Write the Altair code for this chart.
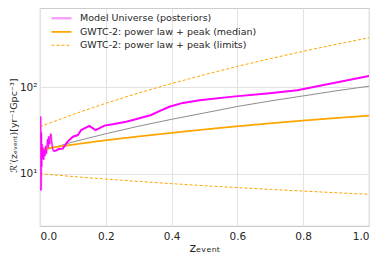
import altair as alt
import pandas as pd

# ---- data ----
z_grid = [0.0, 0.1, 0.2, 0.3, 0.4, 0.5, 0.6, 0.7, 0.8, 0.9, 1.0]
median_vals = [19.1, 21.7, 24.4, 27.0, 29.7, 32.5, 35.4, 38.3, 41.2, 44.1, 47.0]
upper_vals = [35.0, 48.5, 65.3, 86.0, 110.6, 140.0, 174.7, 214.6, 261.0, 314.0, 375.0]
lower_vals = [10.0, 9.27, 8.66, 8.13, 7.67, 7.26, 6.9, 6.58, 6.29, 6.02, 5.78]

z_gray = [0.009, 0.1, 0.2, 0.3, 0.4, 0.5, 0.6, 0.7, 0.8, 0.9, 1.0]
gray_vals = [18.5, 23.3, 29.0, 35.5, 42.6, 50.5, 60.0, 69.5, 79.5, 91.0, 103.0]

z_noise = [0.002, 0.003, 0.004, 0.005, 0.006, 0.007, 0.009, 0.011, 0.013, 0.015,
           0.017, 0.019, 0.021, 0.023, 0.025, 0.027, 0.029, 0.031, 0.033, 0.035,
           0.037, 0.040]
noise_vals = [46.0, 6.4, 30.0, 12.0, 22.0, 15.0, 20.0, 14.5, 19.0, 16.0,
              21.0, 17.0, 20.0, 25.0, 20.0, 27.0, 22.0, 26.0, 29.0, 24.0,
              21.0, 18.5]

z_main = [0.040, 0.045, 0.057, 0.069, 0.084, 0.100, 0.115, 0.125, 0.150, 0.169,
          0.196, 0.221, 0.262, 0.302, 0.338, 0.363, 0.393, 0.434, 0.485, 0.586,
          0.698, 0.782, 1.0]
main_vals = [18.5, 18.3, 19.3, 19.5, 23.5, 26.8, 28.0, 32.0, 35.7, 32.0,
             36.0, 37.3, 40.0, 43.8, 47.8, 53.0, 59.6, 66.0, 71.0, 78.0,
             85.5, 92.3, 135.0]

labels = ["Model Universe (posteriors)",
          "GWTC-2: power law + peak (median)",
          "GWTC-2: power law + peak (limits)"]

# ---- tables ----
rows = []
for z, v in zip(z_noise, noise_vals):
    rows.append({"z": z, "R": v, "series": labels[0], "part": "band"})
for z, v in zip(z_grid, median_vals):
    rows.append({"z": z, "R": v, "series": labels[1], "part": "median"})
for z, v in zip(z_grid, upper_vals):
    rows.append({"z": z, "R": v, "series": labels[2], "part": "upper"})
for z, v in zip(z_grid, lower_vals):
    rows.append({"z": z, "R": v, "series": labels[2], "part": "lower"})
legend_df = pd.DataFrame(rows)

gray_df = pd.DataFrame({"z": z_gray, "R": gray_vals})
noise_df = pd.DataFrame({"z": z_noise, "R": noise_vals})
main_df = pd.DataFrame({"z": z_main, "R": main_vals})

ORANGE = "#ffa500"

x_enc = alt.X("z:Q", scale=alt.Scale(domain=[0, 1], nice=False),
              axis=alt.Axis(values=[0, 0.2, 0.4, 0.6, 0.8, 1.0], format=".1f",
                            title="zₑᵥₑₙₜ"))
y_enc = alt.Y("R:Q", scale=alt.Scale(type="log", domain=[2.48, 828], nice=False),
              axis=alt.Axis(values=[10, 100],
                            labelExpr="datum.value == 100 ? '10²' : '10¹'",
                            title="ℛ′(zₑᵥₑₙₜ)[yr⁻¹Gpc⁻³]", titleY=117))

leg_props = dict(title=None, orient="none", legendX=10, legendY=4,
                 symbolType="stroke", symbolSize=400,
                 symbolStrokeWidth=1.4, labelFontSize=9.5,
                 labelFont="DejaVu Sans", labelColor="#262626",
                 labelOffset=7, rowPadding=0.5, clipHeight=12.5, padding=0,
                 labelLimit=400)

gray = alt.Chart(gray_df).mark_line(color="#8c8c8c", strokeWidth=1.0, clip=True).encode(
    x=x_enc, y=y_enc)

leg = alt.Chart(legend_df).mark_line(clip=True).encode(
    x=x_enc, y=y_enc,
    color=alt.Color("series:N",
                    scale=alt.Scale(domain=labels, range=["#f7a3f7", ORANGE, ORANGE]),
                    legend=alt.Legend(**leg_props)),
    strokeDash=alt.StrokeDash("series:N",
                              scale=alt.Scale(domain=labels,
                                              range=[[1, 0], [1, 0], [3, 2]]),
                              legend=alt.Legend(**leg_props)),
    strokeWidth=alt.StrokeWidth("series:N",
                                scale=alt.Scale(domain=labels, range=[2.5, 1.0, 1.0]),
                                legend=None),
    detail="part:N",
)

noise = alt.Chart(noise_df).mark_line(color="#ff00ff", strokeWidth=1.0, clip=True).encode(
    x=x_enc, y=y_enc)
main = alt.Chart(main_df).mark_line(color="#ff00ff", strokeWidth=2.0, clip=True).encode(
    x=x_enc, y=y_enc)

chart = alt.layer(gray, leg, noise, main).properties(
    width=329, height=218, autosize="none",
    padding={"left": 32, "top": 0, "right": 5, "bottom": 31},
).configure_view(stroke="#cccccc", strokeWidth=1.2).configure_axis(
    domain=False, ticks=False, gridColor="#e3e3e3", gridWidth=1.1,
    labelFont="DejaVu Sans", labelFontSize=10.5, labelColor="#262626",
    titleFont="DejaVu Sans", titleFontWeight="normal", titleColor="#262626",
).configure_axisX(titleFontSize=12.5, titlePadding=0, labelPadding=5).configure_axisY(
    titleFontSize=9.5, titlePadding=1, labelPadding=3)

chart.save("out.html", embed_options={"renderer": "svg", "actions": False})
